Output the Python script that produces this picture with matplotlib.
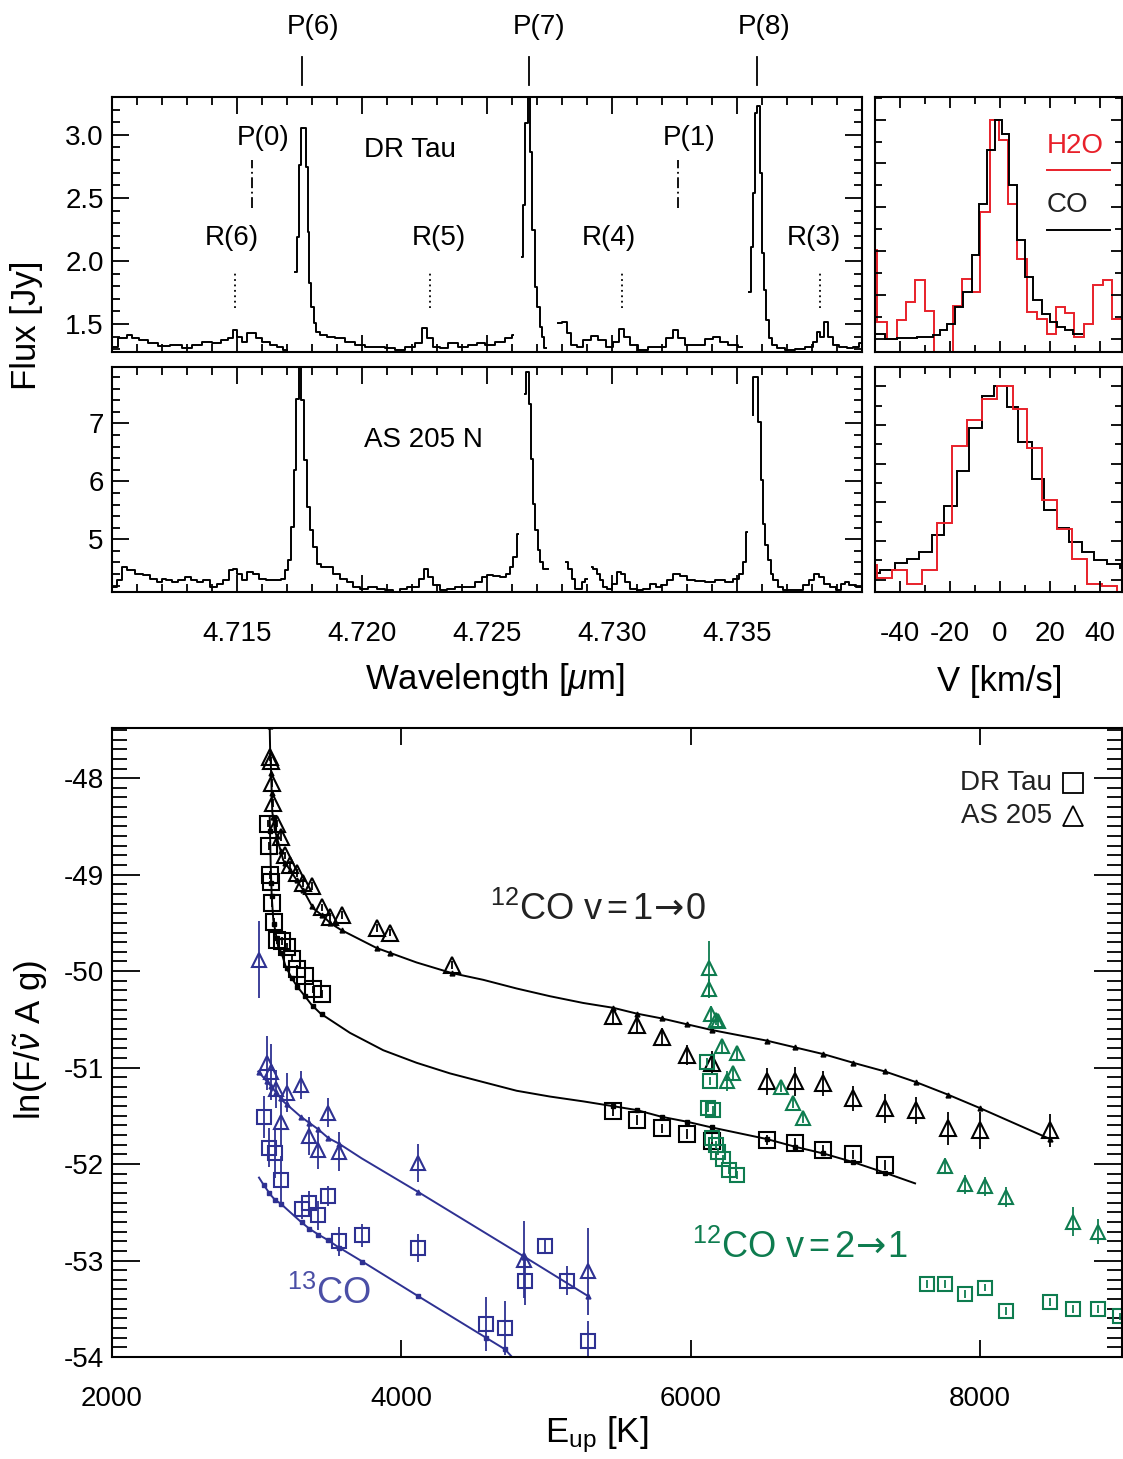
import numpy as np
import matplotlib
matplotlib.use('Agg')
import matplotlib.pyplot as plt
import matplotlib.transforms as mtransforms
from matplotlib.ticker import MultipleLocator, FixedLocator

plt.rcParams['font.family'] = ['Liberation Sans', 'DejaVu Sans']
plt.rcParams['mathtext.fontset'] = 'custom'
plt.rcParams['mathtext.rm'] = 'Liberation Sans'
plt.rcParams['mathtext.it'] = 'Liberation Sans:italic'
plt.rcParams['mathtext.bf'] = 'Liberation Sans:bold'
plt.rcParams['mathtext.sf'] = 'DejaVu Sans'
plt.rcParams['axes.unicode_minus'] = False

RED = '#E8202A'
GREEN = '#0E7C4F'
BLUE = '#2E3192'
BLUE_TXT = '#4B4FA6'

# ---------------- spectra (wavelength [um], flux [Jy]) ----------------
dr_segments = [
    ([4.71005, 4.71045, 4.71072, 4.71092, 4.71125, 4.71165, 4.71205, 4.71259, 4.71299, 4.71339,
      4.71379, 4.71419, 4.71452, 4.71479, 4.71492, 4.71512, 4.71532, 4.71552, 4.71565, 4.71585,
      4.71619, 4.71645, 4.71672, 4.71699],
     [1.320, 1.386, 1.413, 1.386, 1.373, 1.346, 1.325, 1.333, 1.307, 1.333,
      1.360, 1.346, 1.373, 1.386, 1.452, 1.399, 1.360, 1.426, 1.431, 1.386,
      1.360, 1.333, 1.320, 1.294]),
    ([4.71732, 4.71745, 4.71752, 4.71763, 4.71772, 4.71779, 4.71788, 4.71792, 4.71801, 4.71812,
      4.71819, 4.71845, 4.71872, 4.71912, 4.71952, 4.71992, 4.72032, 4.72072, 4.72112, 4.72152,
      4.72192, 4.72232, 4.72252, 4.72272, 4.72299, 4.72325, 4.72365, 4.72405, 4.72445, 4.72472,
      4.72512, 4.72552, 4.72592, 4.72605],
     [1.915, 2.193, 2.762, 3.053, 3.053, 2.749, 2.233, 1.823, 1.637, 1.505,
      1.439, 1.413, 1.399, 1.386, 1.360, 1.333, 1.320, 1.320, 1.307, 1.294,
      1.320, 1.346, 1.466, 1.386, 1.320, 1.307, 1.346, 1.320, 1.333, 1.346,
      1.333, 1.360, 1.386, 1.413]),
    ([4.72639, 4.72649, 4.72659, 4.72668, 4.72676, 4.72685, 4.72696, 4.72705, 4.72716, 4.72725,
      4.72735],
     [2.034, 2.444, 3.093, 3.600, 2.868, 2.246, 1.796, 1.637, 1.479, 1.399,
      1.307]),
    ([4.72785, 4.72812, 4.72825, 4.72845, 4.72872, 4.72899, 4.72932, 4.72959, 4.72992, 4.73019,
      4.73039, 4.73059, 4.73085, 4.73125, 4.73165, 4.73199, 4.73232, 4.73252, 4.73272, 4.73312,
      4.73352, 4.73392, 4.73419, 4.73445, 4.73485, 4.73519],
     [1.505, 1.519, 1.426, 1.333, 1.320, 1.373, 1.405, 1.373, 1.320, 1.360,
      1.457, 1.399, 1.333, 1.294, 1.320, 1.320, 1.386, 1.452, 1.386, 1.333,
      1.333, 1.378, 1.394, 1.360, 1.333, 1.320]),
    ([4.73549, 4.73559, 4.73568, 4.73576, 4.73585, 4.73595, 4.73603, 4.73612, 4.73621, 4.73632,
      4.73645, 4.73672, 4.73712, 4.73752, 4.73792, 4.73812, 4.73825, 4.73839, 4.73859, 4.73872,
      4.73892, 4.73925, 4.73952, 4.73979, 4.73999],
     [1.757, 2.114, 2.537, 3.172, 3.225, 2.696, 2.061, 1.770, 1.532, 1.386,
      1.333, 1.307, 1.294, 1.299, 1.320, 1.360, 1.439, 1.399, 1.519, 1.399,
      1.333, 1.320, 1.307, 1.320, 1.346]),
]

as_segments = [
    ([4.71005, 4.71032, 4.71045, 4.71072, 4.71112, 4.71139, 4.71165, 4.71192, 4.71205, 4.71225,
      4.71252, 4.71279, 4.71305, 4.71325, 4.71352, 4.71379, 4.71405, 4.71432, 4.71459, 4.71479,
      4.71492, 4.71512, 4.71532, 4.71552, 4.71579, 4.71599, 4.71632, 4.71665, 4.71685, 4.71699,
      4.71712, 4.71723, 4.71732, 4.71741, 4.71752, 4.71763, 4.71775, 4.71788, 4.71799, 4.71812,
      4.71825, 4.71845, 4.71872, 4.71899, 4.71925, 4.71952, 4.71979, 4.72005, 4.72045, 4.72072,
      4.72112, 4.72139, 4.72165, 4.72192, 4.72219, 4.72239, 4.72256, 4.72272, 4.72299, 4.72325,
      4.72352, 4.72392, 4.72432, 4.72472, 4.72492, 4.72512, 4.72539, 4.72565, 4.72585, 4.72599,
      4.72612, 4.72625],
     [4.178, 4.293, 4.523, 4.465, 4.408, 4.379, 4.322, 4.264, 4.322, 4.293,
      4.264, 4.293, 4.350, 4.293, 4.264, 4.293, 4.178, 4.235, 4.293, 4.465,
      4.494, 4.408, 4.293, 4.437, 4.408, 4.322, 4.293, 4.293, 4.322, 4.465,
      4.638, 5.213, 6.190, 7.425, 8.300, 7.396, 6.362, 5.557, 5.155, 4.868,
      4.580, 4.523, 4.523, 4.408, 4.322, 4.264, 4.178, 4.149, 4.178, 4.149,
      4.120, 4.092, 4.149, 4.178, 4.178, 4.322, 4.494, 4.350, 4.207, 4.120,
      4.149, 4.178, 4.178, 4.264, 4.350, 4.379, 4.362, 4.350, 4.408, 4.523,
      4.695, 5.098]),
    ([4.72652, 4.72661, 4.72672, 4.72679, 4.72688, 4.72699, 4.72708, 4.72719, 4.72732, 4.72743],
     [7.511, 7.885, 7.339, 6.391, 5.615, 5.155, 4.810, 4.609, 4.494, 4.494]),
    ([4.72816, 4.72832, 4.72845, 4.72859, 4.72872, 4.72885, 4.72899],
     [4.609, 4.494, 4.322, 4.149, 4.149, 4.264, 4.322]),
    ([4.72919, 4.72932, 4.72945, 4.72959, 4.72972, 4.72992, 4.73012, 4.73029, 4.73045, 4.73059,
      4.73085, 4.73112, 4.73139, 4.73165, 4.73185, 4.73205, 4.73232, 4.73259, 4.73285, 4.73312,
      4.73352, 4.73392, 4.73432, 4.73472, 4.73499, 4.73519, 4.73532, 4.73539],
     [4.523, 4.494, 4.408, 4.293, 4.178, 4.149, 4.235, 4.437, 4.408, 4.264,
      4.149, 4.120, 4.149, 4.235, 4.178, 4.207, 4.293, 4.396, 4.362, 4.293,
      4.276, 4.264, 4.293, 4.264, 4.322, 4.408, 4.609, 5.126]),
    ([4.73563, 4.73568, 4.73579, 4.73589, 4.73599, 4.73608, 4.73619, 4.73629, 4.73639, 4.73652,
      4.73672, 4.73699, 4.73725, 4.73752, 4.73779, 4.73799, 4.73819, 4.73839, 4.73859, 4.73885,
      4.73905, 4.73925, 4.73939, 4.73959, 4.73992],
     [7.138, 7.799, 7.799, 7.023, 6.017, 5.270, 4.896, 4.638, 4.408, 4.293,
      4.178, 4.120, 4.120, 4.120, 4.207, 4.293, 4.408, 4.350, 4.235, 4.178,
      4.120, 4.235, 4.264, 4.207, 4.178]),
]

# line identifications
top_lines = ['P(6)', 'P(7)', 'P(8)']
top_line_wl = [4.7176, 4.72668, 4.7358]
top_label_wl = [4.71804, 4.72708, 4.73608]
r_lines = ['R(6)', 'R(5)', 'R(4)', 'R(3)']
r_line_wl = [4.71492, 4.72272, 4.7304, 4.73832]
r_label_wl = [4.7148, 4.72308, 4.72988, 4.73808]
p_lines = ['P(0)', 'P(1)']
p_line_wl = [4.7156, 4.73264]
p_label_wl = [4.71604, 4.73308]

# ---------------- velocity profiles (normalised) ----------------
dr_co_edges = [-50.0, -46.0, -41.33, -37.33, -33.33, -26.67, -24.0, -21.07, -18.0, -14.67, -11.33,
               -8.27, -5.07, -2.0, 0.67, 3.73, 6.67, 10.0, 13.33, 16.67, 20.0, 22.67, 26.0,
               29.33, 33.33]
dr_co_vals = [0.023, 0.0, 0.003, 0.005, 0.008, 0.015, 0.038, 0.068, 0.145, 0.213, 0.381,
              0.616, 0.860, 1.0, 0.936, 0.700, 0.449, 0.282, 0.175, 0.114, 0.076, 0.053,
              0.038, 0.023]
dr_h2o_edges = [-50.0, -49.07, -45.33, -41.33, -37.6, -34.0, -30.0, -26.4, -18.67, -15.33, -11.33,
                -8.0, -4.0, -0.27, 3.33, 6.67, 10.67, 14.67, 18.67, 22.4, 26.0, 29.6, 33.6,
                37.33, 41.07, 44.67, 48.67]
dr_h2o_vals = [0.403, 0.076, 0.0, 0.084, 0.167, 0.266, 0.126, -0.2, 0.148, 0.274, 0.213,
               0.578, 1.0, 0.906, 0.616, 0.365, 0.122, 0.091, 0.023, 0.145, 0.117, 0.008,
               0.068, 0.244, 0.266, 0.091]
as_co_edges = [-50.0, -48.0, -42.0, -37.33, -32.27, -27.33, -22.4, -17.33, -12.27, -7.33, -2.4,
               2.67, 7.33, 12.67, 17.6, 22.67, 27.6, 32.67, 37.6, 42.67, 48.0, 48.93]
as_co_vals = [0.034, 0.052, 0.086, 0.109, 0.143, 0.229, 0.379, 0.564, 0.784, 0.952, 1.0,
              0.893, 0.710, 0.522, 0.362, 0.267, 0.193, 0.143, 0.103, 0.079, 0.060]
as_h2o_edges = [-50.0, -49.33, -43.33, -37.33, -31.33, -25.33, -19.33, -13.33, -7.33, -1.33,
                5.07, 10.67, 16.67, 22.67, 28.67, 34.67, 40.67, 46.67, 48.9]
as_h2o_vals = [0.078, 0.009, 0.048, -0.021, 0.048, 0.293, 0.690, 0.828, 0.934, 1.0,
               0.883, 0.681, 0.414, 0.264, 0.107, -0.021, -0.034, -0.2]

# ---------------- rotation diagram ----------------
# 12CO v=1-0, AS 205 (triangles)
as10_E = [3090, 3100, 3104, 3113, 3138, 3166, 3196, 3230, 3276, 3320, 3380, 3449, 3507, 3587,
          3829, 3921, 4348, 5464, 5626, 5799, 5971, 6144, 6524, 6720, 6916, 7123, 7342, 7556,
          7777, 7999, 8482]
as10_ln = [-47.78, -47.82, -48.05, -48.26, -48.47, -48.61, -48.80, -48.90, -48.98, -49.09,
           -49.12, -49.34, -49.44, -49.42, -49.55, -49.60, -49.94, -50.47, -50.56, -50.68,
           -50.87, -50.95, -51.14, -51.14, -51.16, -51.32, -51.42, -51.44, -51.63, -51.65, -51.65]
as10_err = [0.04] * 17 + [0.08, 0.08, 0.09, 0.10, 0.12, 0.14, 0.15, 0.13, 0.13, 0.15, 0.14,
                          0.17, 0.19, 0.17]
# 12CO v=1-0, DR Tau (squares)
dr10_E = [3080, 3087, 3092, 3101, 3104, 3120, 3138, 3172, 3207, 3242, 3280, 3334, 3391, 3449,
          5464, 5626, 5799, 5971, 6144, 6524, 6720, 6916, 7123, 7342]
dr10_ln = [-48.47, -48.70, -49.00, -49.08, -49.29, -49.49, -49.68, -49.69, -49.75, -49.87,
           -49.98, -50.05, -50.19, -50.24, -51.45, -51.54, -51.63, -51.69, -51.76, -51.75,
           -51.78, -51.85, -51.90, -52.01]
dr10_err = [0.04] * 14 + [0.05] * 10
# 12CO v=2-1
as21_E = [6128, 6128, 6137, 6174, 6190, 6213, 6248, 6289, 6321, 6621, 6704, 6778, 7757, 7895,
          8033, 8178, 8641, 8814]
as21_ln = [-49.97, -50.18, -50.44, -50.51, -50.52, -50.78, -51.14, -51.06, -50.85, -51.20,
           -51.37, -51.52, -52.02, -52.21, -52.23, -52.34, -52.60, -52.70]
as21_err = [0.28, 0.10, 0.08, 0.05, 0.05, 0.08, 0.10, 0.08, 0.06, 0.05, 0.05, 0.05, 0.08,
            0.10, 0.10, 0.10, 0.15, 0.13]
dr21_E = [6114, 6133, 6121, 6155, 6144, 6174, 6190, 6220, 6266, 6321, 7630, 7757, 7895, 8033,
          8178, 8482, 8641, 8814, 8966]
dr21_ln = [-50.94, -51.14, -51.42, -51.44, -51.73, -51.80, -51.87, -51.95, -52.06, -52.11,
           -53.24, -53.24, -53.35, -53.28, -53.52, -53.43, -53.50, -53.50, -53.58]
dr21_err = [0.04] * 19
# 13CO
as13_E = [3016, 3069, 3097, 3133, 3207, 3304, 3166, 3364, 3426, 3495, 3571, 4117, 4849, 5292]
as13_ln = [-49.88, -50.95, -51.05, -51.22, -51.26, -51.18, -51.56, -51.71, -51.85, -51.47,
           -51.87, -51.99, -52.99, -53.11]
as13_err = [0.40, 0.28, 0.29, 0.20, 0.20, 0.15, 0.25, 0.20, 0.20, 0.15, 0.20, 0.20, 0.40, 0.45]
dr13_E = [3050, 3087, 3126, 3166, 3311, 3364, 3426, 3495, 3571, 3730, 4117, 4585, 4716, 4854,
          4992, 5142, 5292]
dr13_ln = [-51.51, -51.83, -51.89, -52.17, -52.47, -52.40, -52.53, -52.33, -52.80, -52.74,
           -52.87, -53.66, -53.70, -53.21, -52.85, -53.21, -53.83]
dr13_err = [0.22, 0.20, 0.25, 0.25, 0.10, 0.12, 0.15, 0.10, 0.15, 0.12, 0.15, 0.28, 0.28,
            0.25, 0.08, 0.15, 0.20]

# model curves
mod_as10_E = [3088, 3093, 3099, 3108, 3126, 3184, 3230, 3322, 3391, 3460, 3507, 3580, 3829, 3921,
              4105, 4348, 4566, 4797, 5027, 5257, 5464, 5626, 5799, 5971, 6144, 6524, 6720, 6916,
              7123, 7342, 7556, 7777, 7999, 8482]
mod_as10_ln = [-47.30, -47.70, -47.90, -48.35, -48.54, -48.85, -48.95, -49.16, -49.35, -49.43,
               -49.50, -49.57, -49.76, -49.81, -49.91, -50.02, -50.09, -50.18, -50.26, -50.33,
               -50.38, -50.44, -50.49, -50.55, -50.61, -50.72, -50.79, -50.86, -50.95, -51.04,
               -51.15, -51.28, -51.42, -51.74]
mod_dr10_E = [3090, 3097, 3104, 3115, 3149, 3172, 3200, 3242, 3280, 3334, 3380, 3442, 3645, 3875,
              4105, 4336, 4566, 4797, 5027, 5257, 5464, 5626, 5799, 5971, 6144, 6524, 6720, 6916,
              7123, 7342, 7550]
mod_dr10_ln = [-48.40, -48.90, -49.22, -49.47, -49.75, -49.81, -49.95, -50.07, -50.16, -50.26,
               -50.35, -50.44, -50.64, -50.82, -50.95, -51.06, -51.15, -51.24, -51.30, -51.35,
               -51.40, -51.44, -51.51, -51.56, -51.62, -51.74, -51.82, -51.89, -51.98, -52.09,
               -52.20]
mod_as13_E = [3011, 3092, 3184, 3306, 3426, 3495, 3571, 3725, 4117, 4849, 5292]
mod_as13_ln = [-51.04, -51.18, -51.35, -51.51, -51.64, -51.73, -51.79, -51.94, -52.29, -52.96,
               -53.37]
mod_dr13_E = [3016, 3050, 3097, 3126, 3166, 3299, 3364, 3426, 3495, 3553, 3730, 4117, 4585, 4716,
              4820]
mod_dr13_ln = [-52.14, -52.22, -52.32, -52.37, -52.41, -52.59, -52.67, -52.73, -52.79, -52.85,
               -53.01, -53.37, -53.80, -53.92, -54.09]

# ---------------- figure ----------------
fig = plt.figure(figsize=(11.23, 14.59), dpi=100)
ax1 = fig.add_axes([0.0997, 0.7587, 0.6679, 0.1748])
ax2 = fig.add_axes([0.0997, 0.5942, 0.6679, 0.1542])
ax3 = fig.add_axes([0.7792, 0.7587, 0.2199, 0.1748])
ax4 = fig.add_axes([0.7792, 0.5942, 0.2199, 0.1542])
ax5 = fig.add_axes([0.0997, 0.0699, 0.8994, 0.4311])

FS = 20
LFS = 25


def style(ax, maj, mnr):
    ax.tick_params(which='both', direction='in', top=True, right=True, width=1.3,
                   labelsize=FS)
    ax.tick_params(which='major', length=maj)
    ax.tick_params(which='minor', length=mnr)
    for s in ax.spines.values():
        s.set_linewidth(1.5)


# spectra
for ax, segs in ((ax1, dr_segments), (ax2, as_segments)):
    for wl, fl in segs:
        ax.step(wl, fl, where='mid', color='black', lw=1.4)
    ax.set_xlim(4.710, 4.740)
    ax.xaxis.set_major_locator(MultipleLocator(0.005))
    ax.xaxis.set_minor_locator(MultipleLocator(0.001))
    style(ax, 12, 6)
    ax.tick_params(axis='y', pad=6)

ax1.set_ylim(1.278, 3.30)
ax1.yaxis.set_major_locator(FixedLocator([1.5, 2.0, 2.5, 3.0]))
ax1.yaxis.set_minor_locator(MultipleLocator(0.1))
ax1.set_yticklabels(['1.5', '2.0', '2.5', '3.0'])
ax1.tick_params(axis='x', labelbottom=False)

ax2.set_ylim(4.09, 7.97)
ax2.yaxis.set_major_locator(FixedLocator([5, 6, 7]))
ax2.yaxis.set_minor_locator(MultipleLocator(0.2))
ax2.set_xticks([4.715, 4.720, 4.725, 4.730, 4.735])
ax2.set_xticklabels(['4.715', '4.720', '4.725', '4.730', '4.735'])
ax2.tick_params(axis='x', pad=21)

# line marks
trans1 = mtransforms.blended_transform_factory(ax1.transData, ax1.transAxes)
for name, wl, lwl in zip(top_lines, top_line_wl, top_label_wl):
    ax1.plot([wl, wl], [1.047, 1.157], color='black', lw=1.3, transform=trans1, clip_on=False)
    ax1.text(lwl, 1.275, name, transform=trans1, ha='center', va='center', fontsize=FS)
for name, wl, lwl in zip(r_lines, r_line_wl, r_label_wl):
    ax1.plot([wl, wl], [1.63, 1.91], color='black', lw=1.3, ls=(0, (1, 2)))
    ax1.text(lwl, 2.183, name, ha='center', va='center', fontsize=FS)
for name, wl, lwl in zip(p_lines, p_line_wl, p_label_wl):
    ax1.plot([wl, wl], [2.42, 2.80], color='black', lw=1.3, ls=(0, (6, 2, 1, 2)))
    ax1.text(lwl, 2.976, name, ha='center', va='center', fontsize=FS)
ax1.text(4.72192, 2.881, 'DR Tau', ha='center', va='center', fontsize=FS)
ax2.text(4.72244, 6.707, 'AS 205 N', ha='center', va='center', fontsize=FS)

# velocity profiles
ax3.stairs(dr_h2o_vals, dr_h2o_edges, color=RED, lw=1.4, baseline=None)
ax3.stairs(dr_co_vals, dr_co_edges, color='black', lw=1.4, baseline=None)
ax4.stairs(as_co_vals, as_co_edges, color='black', lw=1.4, baseline=None)
ax4.stairs(as_h2o_vals, as_h2o_edges, color=RED, lw=1.4, baseline=None)
ax3.set_ylim(-0.061, 1.103)
ax4.set_ylim(-0.064, 1.10)
for ax in (ax3, ax4):
    ax.set_xlim(-50.0, 48.8)
    ax.xaxis.set_major_locator(MultipleLocator(20))
    ax.xaxis.set_minor_locator(MultipleLocator(10))
    ax.yaxis.set_major_locator(MultipleLocator(0.2))
    ax.yaxis.set_minor_locator(MultipleLocator(0.1))
    style(ax, 8, 5)
    ax.tick_params(axis='y', labelleft=False)
ax3.tick_params(axis='x', labelbottom=False)
ax4.tick_params(axis='x', pad=21)
ax4.set_xticks([-40, -20, 0, 20, 40])
ax4.set_xticklabels(['-40', '-20', '0', '20', '40'])

ax3.text(18.8, 0.878, 'H2O', color=RED, fontsize=FS, ha='left', va='center')
ax3.plot([18.8, 44.0], [0.769, 0.769], color=RED, lw=1.4)
ax3.text(18.8, 0.609, 'CO', color='#222222', fontsize=FS, ha='left', va='center')
ax3.plot([18.8, 44.0], [0.495, 0.495], color='black', lw=1.4)

fig.text(0.024, 0.777, 'Flux [Jy]', rotation=90, ha='center', va='center', fontsize=LFS)
fig.text(0.4408, 0.534, r'Wavelength [$\mu$m]', ha='center', va='center', fontsize=LFS)
fig.text(0.890, 0.5326, 'V [km/s]', ha='center', va='center', fontsize=LFS)

# rotation diagram


def points(E, ln, err, marker, color, ms):
    ax5.errorbar(E, ln, yerr=err, fmt='none', ecolor=color, elinewidth=1.3, capsize=0)
    ax5.plot(E, ln, ls='none', marker=marker, ms=ms, mfc='none', mec=color, mew=1.5)


def model(mE, mln, dE, color, marker):
    ax5.plot(mE, mln, color=color, lw=1.4)
    dE = np.asarray(dE, dtype=float)
    dE = dE[(dE >= mE[0]) & (dE <= mE[-1])]
    ax5.plot(dE, np.interp(dE, mE, mln), ls='none', marker=marker, ms=3.5, color=color)


model(mod_as10_E, mod_as10_ln, as10_E, 'black', '^')
model(mod_dr10_E, mod_dr10_ln, dr10_E, 'black', 's')
model(mod_as13_E, mod_as13_ln, as13_E, BLUE, '^')
model(mod_dr13_E, mod_dr13_ln, dr13_E, BLUE, 's')

points(as10_E, as10_ln, as10_err, '^', 'black', 11.5)
points(dr10_E, dr10_ln, dr10_err, 's', 'black', 11)
points(as13_E, as13_ln, as13_err, '^', BLUE, 10.5)
points(dr13_E, dr13_ln, dr13_err, 's', BLUE, 9.5)
points(as21_E, as21_ln, as21_err, '^', GREEN, 10.5)
points(dr21_E, dr21_ln, dr21_err, 's', GREEN, 9.5)

ax5.set_xlim(2000, 8980)
ax5.set_ylim(-54.0, -47.48)
ax5.set_xticks([2000, 4000, 6000, 8000])
ax5.yaxis.set_major_locator(MultipleLocator(1))
ax5.yaxis.set_minor_locator(MultipleLocator(0.1))
style(ax5, 20, 11)
ax5.tick_params(axis='x', which='major', length=12, pad=21)
ax5.tick_params(axis='y', pad=6)

ax5.text(4612, -49.36, r'$^{12}$CO v$\,$=$\,$1$\mathsf{\!\rightarrow\!}$0', color='#222222',
         fontsize=26, ha='left', va='center')
ax5.text(6008, -52.87, r'$^{12}$CO v$\,$=$\,$2$\mathsf{\!\rightarrow\!}$1', color=GREEN,
         fontsize=26, ha='left', va='center')
ax5.text(3209, -53.35, r'$^{13}$CO', color=BLUE_TXT, fontsize=26, ha='left', va='center')

ax5.text(0.9307, 0.9126, 'DR Tau', transform=ax5.transAxes, ha='right', va='center',
         fontsize=FS, color='#222222')
ax5.text(0.9307, 0.8601, 'AS 205', transform=ax5.transAxes, ha='right', va='center',
         fontsize=FS, color='#222222')
ax5.plot([0.9515], [0.9126], transform=ax5.transAxes, marker='s', ms=14, mfc='none',
         mec='black', mew=1.3, clip_on=False)
ax5.plot([0.9515], [0.8601], transform=ax5.transAxes, marker='^', ms=15, mfc='none',
         mec='black', mew=1.3, clip_on=False)

fig.text(0.5316, 0.0165, r'E$_{\rm up}$ [K]', ha='center', va='center', fontsize=LFS)
fig.text(0.027, 0.287, r'ln(F/$\tilde{\nu}$ A g)', rotation=90, ha='center', va='center',
         fontsize=LFS)

fig.savefig('out.png', dpi=100)
